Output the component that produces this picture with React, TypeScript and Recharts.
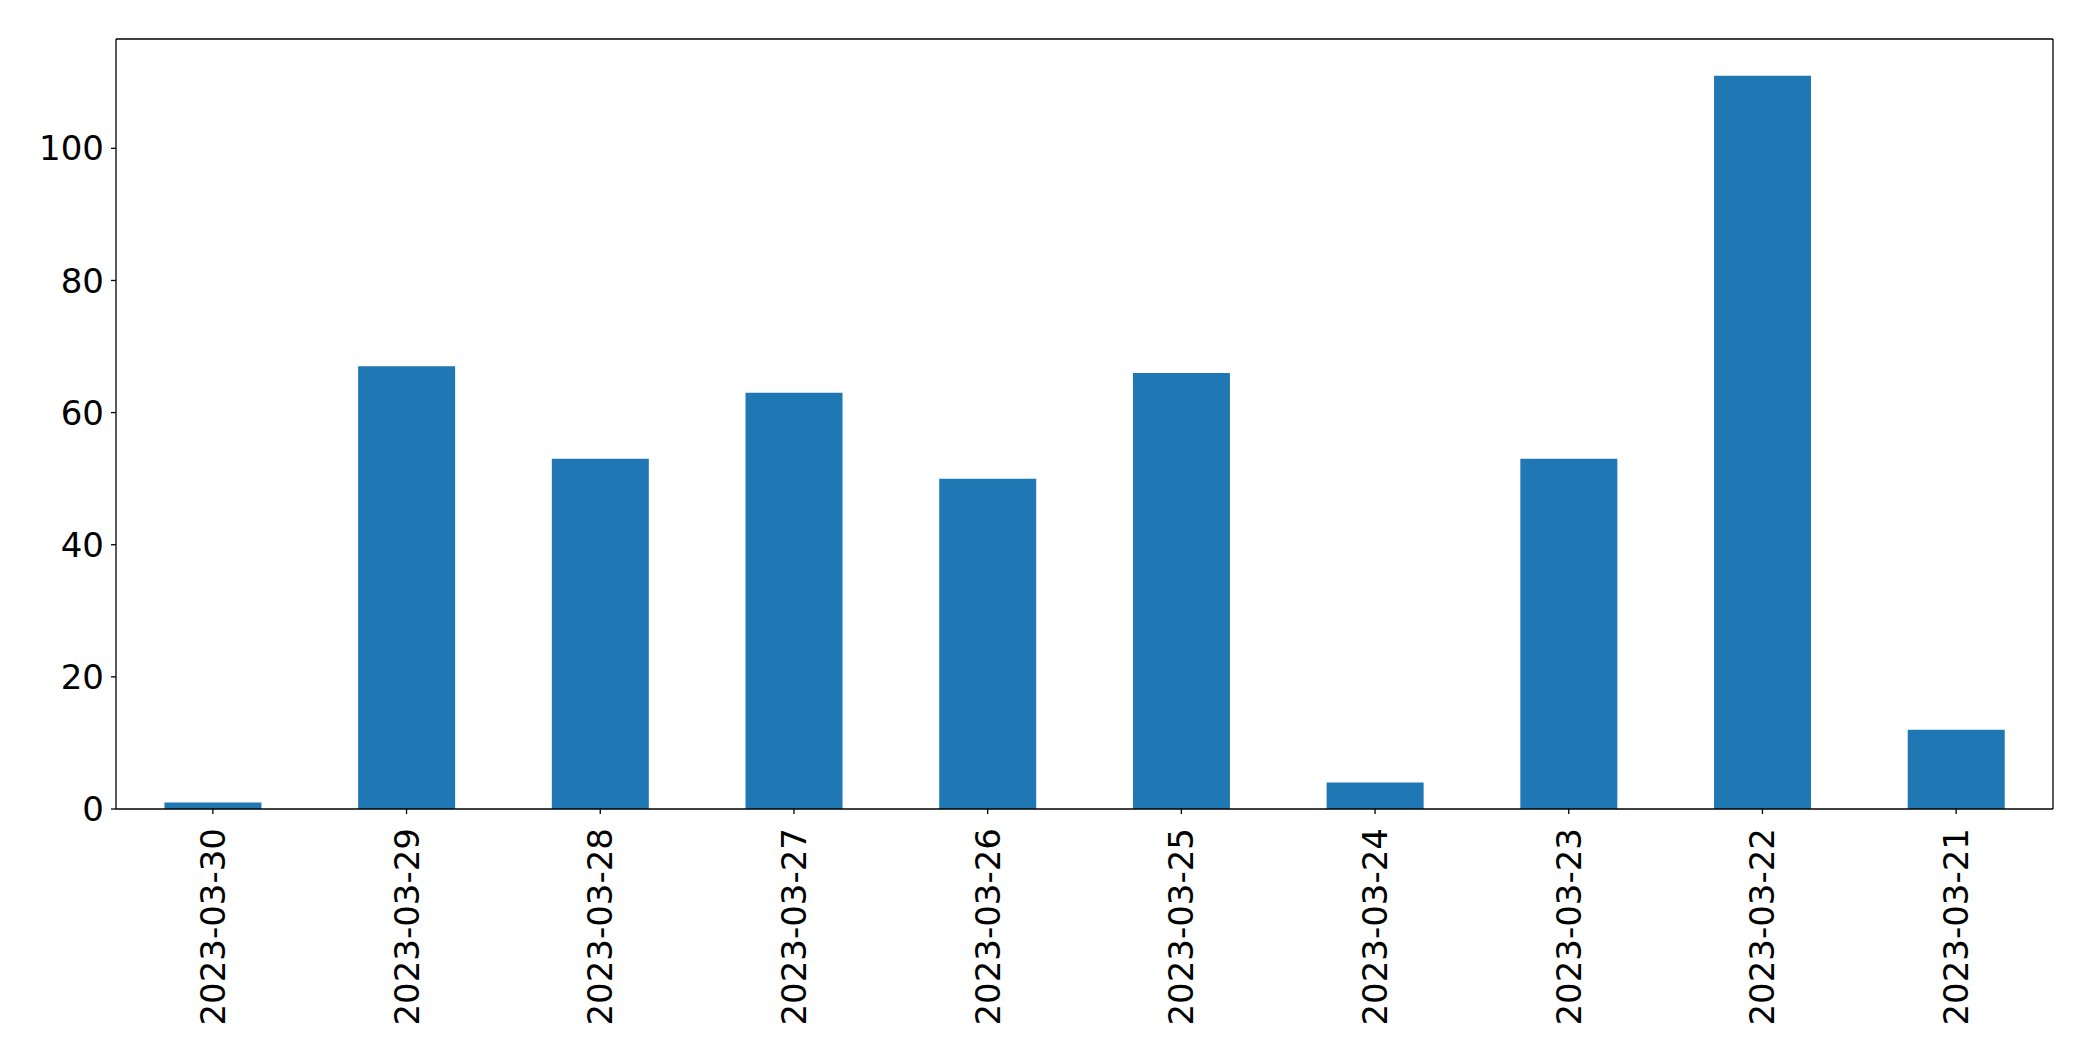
import React from 'react';
import { BarChart, Bar, XAxis, YAxis, CartesianGrid } from 'recharts';

const dates = [
    '2023-03-30', '2023-03-29', '2023-03-28', '2023-03-27', '2023-03-26',
    '2023-03-25', '2023-03-24', '2023-03-23', '2023-03-22', '2023-03-21',
];
const counts = [1, 67, 53, 63, 50, 66, 4, 53, 111, 12];
const yTicks = [0, 20, 40, 60, 80, 100];

const data = dates.map((d, i) => ({ name: d, value: counts[i] }));

const FONT = '"DejaVu Sans", sans-serif';

const DateTick = (props: any) => {
    const { x, y, payload } = props;
    return (
        <text
            transform={`translate(${x},${y + 12}) rotate(-90)`}
            textAnchor="end"
            dominantBaseline="central"
            fontFamily={FONT}
            fontSize={34}
            fill="#000"
        >
            {payload.value}
        </text>
    );
};

export default function App() {
    return (
        <div style={{ position: 'absolute', left: 0, top: 0, background: '#fff' }}>
            <BarChart
                width={2093}
                height={1061}
                data={data}
                barCategoryGap="25%"
                margin={{ top: 39, right: 40, left: 0, bottom: 0 }}
            >
                {/* top and right spines */}
                <CartesianGrid
                    stroke="#000"
                    strokeWidth={1.3}
                    horizontalCoordinatesGenerator={({ offset }: any) => [offset.top]}
                    verticalCoordinatesGenerator={({ offset }: any) => [offset.left + offset.width]}
                />
                <XAxis
                    dataKey="name"
                    height={252}
                    interval={0}
                    stroke="#000"
                    axisLine={{ stroke: '#000', strokeWidth: 1.3 }}
                    tickLine={{ stroke: '#000', strokeWidth: 1.3 }}
                    tickSize={5}
                    tick={<DateTick />}
                />
                <YAxis
                    domain={[0, 116.55]}
                    ticks={yTicks}
                    width={116}
                    interval={0}
                    axisLine={{ stroke: '#000', strokeWidth: 1.3 }}
                    tickLine={{ stroke: '#000', strokeWidth: 1.3 }}
                    tickSize={5}
                    tickMargin={7}
                    tick={{ fill: '#000', fontSize: 34, fontFamily: FONT }}
                />
                <Bar dataKey="value" fill="#1f77b4" isAnimationActive={false} />
            </BarChart>
        </div>
    );
}
